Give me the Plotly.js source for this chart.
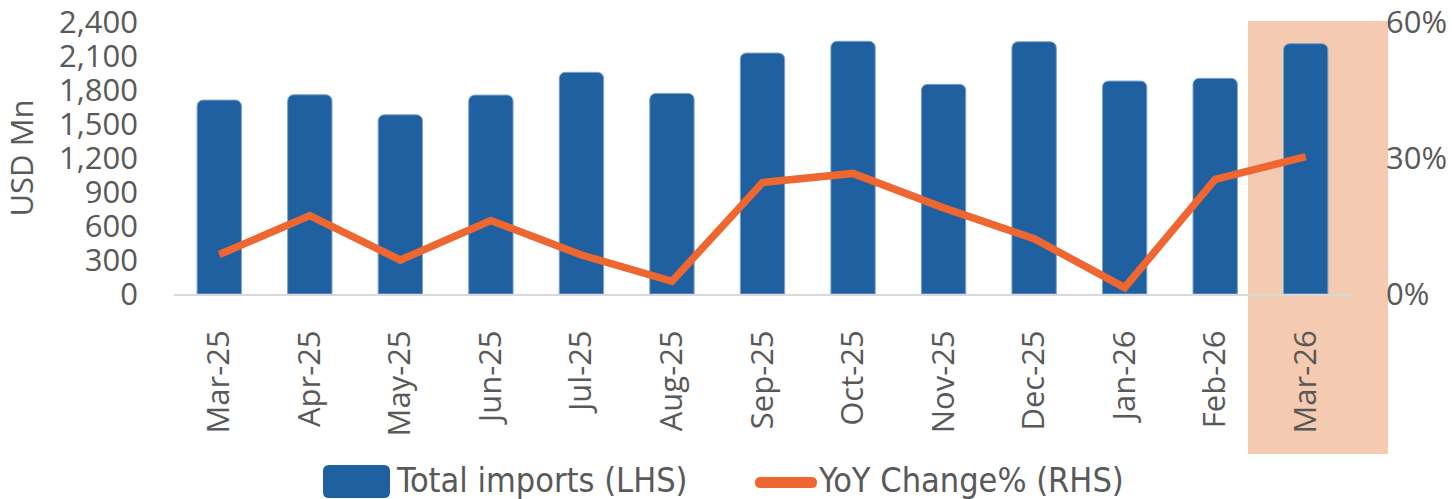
<!DOCTYPE html>
<html>
<head>
<meta charset="utf-8">
<script src="https://cdn.plot.ly/plotly-3.0.1.min.js"></script>
<style>
  html, body { margin: 0; padding: 0; background: #ffffff; }
  #chart { width: 1452px; height: 499px; }
</style>
</head>
<body>
<div id="chart"></div>
<script>
// ---- Data ----
const months = ['Mar-25','Apr-25','May-25','Jun-25','Jul-25','Aug-25','Sep-25','Oct-25','Nov-25','Dec-25','Jan-26','Feb-26','Mar-26'];
const totalImports = [1711, 1758, 1581, 1755, 1956, 1770, 2126, 2230, 1850, 2226, 1879, 1903, 2209];
const yoyChange = [8.7, 17.3, 7.5, 16.2, 8.6, 2.8, 24.6, 26.6, 19.0, 12.2, 1.4, 25.3, 30.3];
const leftTicks = [0, 300, 600, 900, 1200, 1500, 1800, 2100, 2400];
const leftTickText = ['0', '300', '600', '900', '1,200', '1,500', '1,800', '2,100', '2,400'];
const rightTicks = [0, 30, 60];
const rightTickText = ['0%', '30%', '60%'];
const seriesNames = ['Total imports (LHS)', 'YoY Change% (RHS)'];
const yTitle = 'USD Mn';

// ---- Styling ----
const W = 1452, H = 499;
const M = {l: 174, r: 101, t: 22, b: 205};
const PW = W - M.l - M.r, PH = H - M.t - M.b;
const px2x = p => (p - M.l) / PW;
const py2y = p => (H - M.b - p) / PH;

const BLUE = '#1F60A0';
const ORANGE = '#EE6630';
const PEACH = '#F4CBB0';
const TXT = '#595959';
const TICKFONT = {family: '"Open Sans", "Noto Sans", sans-serif', size: 31, color: TXT};
const LEGFONT = {family: '"DejaVu Sans Condensed", "Liberation Sans Narrow", "Open Sans", sans-serif', size: 34, color: TXT};

function roundRectPath(w, h, r) {
  const x0 = -w/2, x1 = w/2, y0 = -h/2, y1 = h/2;
  return `M${x0+r},${y0} L${x1-r},${y0} Q${x1},${y0} ${x1},${y0+r} L${x1},${y1-r} Q${x1},${y1} ${x1-r},${y1} L${x0+r},${y1} Q${x0},${y1} ${x0},${y1-r} L${x0},${y0+r} Q${x0},${y0} ${x0+r},${y0} Z`;
}

const traces = [
  {
    type: 'bar', x: months, y: totalImports, name: seriesNames[0],
    marker: {color: BLUE, cornerradius: 6, line: {color: '#7FA3CC', width: 1}},
    width: 0.49, yaxis: 'y', showlegend: false, hoverinfo: 'x+y'
  },
  {
    type: 'scatter', mode: 'lines', x: months, y: yoyChange, name: seriesNames[1],
    line: {color: ORANGE, width: 7.5}, yaxis: 'y2', showlegend: false
  }
];

const layout = {
  width: W, height: H,
  margin: M,
  paper_bgcolor: '#ffffff',
  plot_bgcolor: 'rgba(0,0,0,0)',
  showlegend: false,
  xaxis: {
    type: 'category', range: [-0.5, months.length - 0.5],
    tickangle: -90, tickfont: TICKFONT, ticks: '', ticklabelstandoff: 22,
    showline: true, linecolor: '#D9D9D9', linewidth: 2, showgrid: false, zeroline: false,
    fixedrange: true
  },
  yaxis: {
    range: [0, 2400], tickmode: 'array', tickvals: leftTicks, ticktext: leftTickText, tickfont: TICKFONT,
    ticks: '', showgrid: false, zeroline: false, showline: false, ticklabelstandoff: 35,
    ticklabeloverflow: 'allow',
    title: {text: yTitle, font: TICKFONT, standoff: 16}, automargin: false, fixedrange: true
  },
  yaxis2: {
    overlaying: 'y', side: 'right', range: [0, 60], tickmode: 'array', tickvals: rightTicks, ticktext: rightTickText,
    tickfont: TICKFONT, ticks: '', showgrid: false, zeroline: false, showline: false,
    ticklabelstandoff: 34, ticklabeloverflow: 'allow', automargin: false, fixedrange: true
  },
  shapes: [
    // highlight behind latest month
    {type: 'rect', xref: 'paper', yref: 'paper', layer: 'below',
     x0: px2x(1248), x1: px2x(1388), y0: py2y(454), y1: py2y(21),
     fillcolor: PEACH, line: {width: 0}},
    // legend symbols
    {type: 'path', xref: 'paper', yref: 'paper', xsizemode: 'pixel', ysizemode: 'pixel',
     xanchor: px2x(356.5), yanchor: py2y(481.5), path: roundRectPath(67, 33, 6),
     fillcolor: BLUE, line: {width: 0}},
    {type: 'path', xref: 'paper', yref: 'paper', xsizemode: 'pixel', ysizemode: 'pixel',
     xanchor: px2x(786), yanchor: py2y(482.5), path: roundRectPath(62, 11, 5.5),
     fillcolor: ORANGE, line: {width: 0}}
  ],
  annotations: [
    {xref: 'paper', yref: 'paper', x: px2x(394), y: py2y(480), xanchor: 'left', yanchor: 'middle',
     text: seriesNames[0], showarrow: false, font: LEGFONT},
    {xref: 'paper', yref: 'paper', x: px2x(816), y: py2y(480), xanchor: 'left', yanchor: 'middle',
     text: seriesNames[1], showarrow: false, font: LEGFONT}
  ]
};

Plotly.newPlot('chart', traces, layout, {staticPlot: true, displayModeBar: false});
</script>
</body>
</html>
